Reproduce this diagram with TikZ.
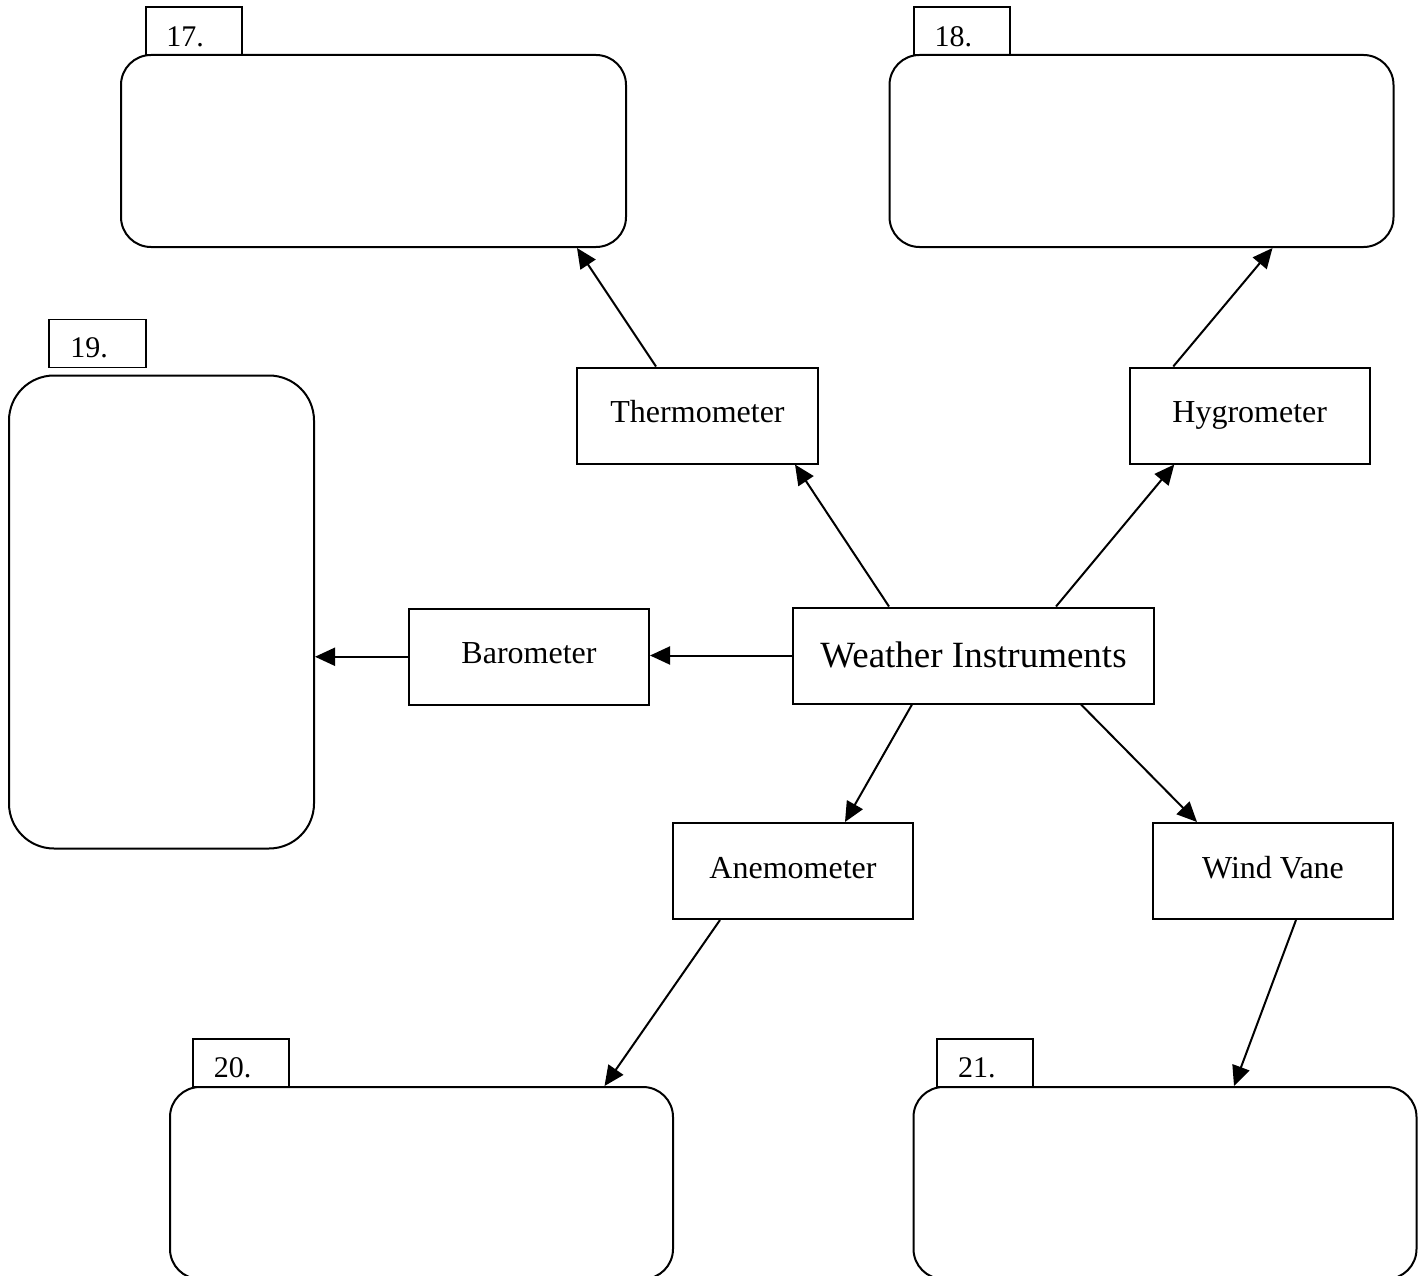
\documentclass[tikz,border=0pt]{standalone}
\usepackage{fontspec}
\setmainfont{Liberation Serif}
\usetikzlibrary{arrows.meta,calc}
\begin{document}
\begin{tikzpicture}[x=1pt,y=-1pt,
  box/.style={draw, line width=2pt, rounded corners=30pt, inner sep=0pt, minimum width=504pt, minimum height=192pt},
  lbl/.style={draw, line width=1.8pt, inner sep=0pt, minimum width=96pt, minimum height=48pt},
  lbltxt/.style={font=\fontsize{30}{36}\selectfont, inner sep=0pt, anchor=base west},
  inst/.style={draw, line width=2pt, minimum width=240pt, minimum height=96pt, inner sep=0pt,
    font=\fontsize{32}{38}\selectfont, text height=22.4pt, text depth=8pt},
  conn/.style={line width=2pt, -{Triangle[length=20pt,width=18pt]}}]
\useasboundingbox (0,0) rectangle (1426,1276);
\clip (0,0) rectangle (1426,1276);

% answer boxes with number tabs
\node[box, minimum width=505pt] (b17) at (373.5,151) {};
\node[lbl] (l17) at (194,31) {};
\node[lbltxt] (t17) at ([xshift=21pt,yshift=9.5pt]l17.south west) {17.};

\node[box] (b18) at (1141.5,151) {};
\node[lbl] (l18) at (961.75,31) {};
\node[lbltxt] (t18) at ([xshift=21.5pt,yshift=9.5pt]l18.south west) {18.};

\node[box, rounded corners=45pt, minimum width=305pt, minimum height=473pt] (b19) at (161.5,612) {};
\node[lbl, minimum width=97pt] (l19) at (97.5,343.5) {};
\node[lbltxt] (t19) at ([xshift=22pt,yshift=11pt]l19.south west) {19.};

\node[box, minimum width=503pt] (b20) at (421.5,1183) {};
\node[lbl] (l20) at (241,1063) {};
\node[lbltxt] (t20) at ([xshift=21.5pt,yshift=10pt]l20.south west) {20.};

\node[box, minimum width=503pt] (b21) at (1165,1183) {};
\node[lbl] (l21) at (985.25,1063) {};
\node[lbltxt] (t21) at ([xshift=21.5pt,yshift=10pt]l21.south west) {21.};

% instruments
\node[inst, minimum width=241pt] (therm) at (697.5,415.5) {Thermometer};
\node[inst] (hygro) at (1249.75,415.5) {Hygrometer};
\node[inst, minimum height=96.5pt] (baro) at (529,656.75) {Barometer};
\node[inst, minimum width=361pt, font=\fontsize{37}{44}\selectfont, text height=30pt, text depth=7pt] (wi) at (973.5,655.5) {Weather Instruments};
\node[inst] (anemo) at (793,871) {Anemometer};
\node[inst] (vane) at (1273,871) {Wind Vane};

% connectors
\draw[conn] ([xshift=97pt]wi.north west) -- ([xshift=219pt]therm.south west);
\draw[conn] ([xshift=264pt]wi.north west) -- ([xshift=45.5pt]hygro.south west);
\draw[conn] (wi.west) -- (wi.west -| baro.east);
\draw[conn] (baro.west) -- (baro.west -| b19.east);
\draw[conn] ([xshift=120pt]wi.south west) -- ([xshift=173pt]anemo.north west);
\draw[conn] ([xshift=289pt]wi.south west) -- ([xshift=45pt]vane.north west);
\draw[conn] ([xshift=80pt]therm.north west) -- ([xshift=457pt]b17.south west);
\draw[conn] ([xshift=44.5pt]hygro.north west) -- ([xshift=384pt]b18.south west);
\draw[conn] ([xshift=48pt]anemo.south west) -- ([xshift=435.5pt]b20.north west);
\draw[conn] ([xshift=144pt]vane.south west) -- ([xshift=321.5pt]b21.north west);
\end{tikzpicture}
\end{document}
